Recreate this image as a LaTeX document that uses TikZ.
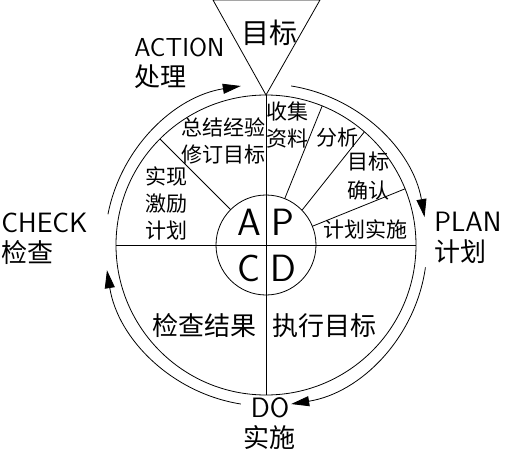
\documentclass[tikz,border=0pt]{standalone}
\usepackage{fontspec}
\setmainfont{Noto Sans CJK SC}
\usetikzlibrary{arrows.meta,positioning}

\begin{document}
\begin{tikzpicture}[
  x=1pt, y=1pt,
  line width=0.8pt,
  ring/.style={circle, draw, inner sep=0pt, outer sep=0pt},
  cyc/.style={-{Triangle[length=18pt, width=10pt]}},
  small/.style={font=\fontsize{21}{27}\selectfont, align=center, inner sep=0pt},
  mid/.style={font=\fontsize{26}{30}\selectfont, align=center, inner sep=0pt},
  outer/.style={font=\fontsize{26}{30}\selectfont, align=left, inner sep=0pt, anchor=west},
  letter/.style={font=\sffamily\fontsize{38}{38}\selectfont, inner sep=0pt}
]
\useasboundingbox (-266,-205) rectangle (240,245);
% wheel and hub
\node[ring, minimum size=300pt] (wheel) at (0,0) {};
\node[ring, minimum size=100pt] (hub) at (0,0) {};
\draw (wheel.north) -- (wheel.south);
\draw (wheel.west) -- (wheel.east);
\draw (hub.135) -- (wheel.135);
\draw (hub.68) -- (wheel.68);
\draw (hub.44) -- (wheel.49);
\draw (hub.22) -- (wheel.22);
% goal triangle
\coordinate (tl) at (-53,245);
\coordinate (tr) at (54,245);
\draw (tl) -- (tr) -- (wheel.north) -- cycle;
\node[font=\fontsize{28}{28}\selectfont, inner sep=0pt] (goal) at (4,212) {目标};
% cycle arrows
\draw[cyc] (169:161) arc[start angle=169, end angle=99, radius=161];
\draw[cyc] (81:161) arc[start angle=81, end angle=10, radius=161];
\draw[cyc] (-8:161) arc[start angle=-8, end angle=-81, radius=161];
\draw[cyc] (-99:161) arc[start angle=-99, end angle=-171, radius=161];
% hub letters
\node[letter] (la) at (-17,23) {A};
\node[letter] (lp) at (17,23) {P};
\node[letter] (lc) at (-17,-23) {C};
\node[letter] (ld) at (17,-23) {D};
% sector texts
\node[small] (sumup) at (-42,104.5) {总结经验\\修订目标};
\node[small] (reward) at (-99,42) {实现\\激励\\计划};
\node[small] (collect) at (22,120) {收集\\资料};
\node[small] (analyse) at (71,107.5) {分析};
\node[small, font=\fontsize{21}{29}\selectfont] (confirm) at (102,69) {目标\\确认};
\node[small] (carry) at (99,16) {计划实施};
\node[mid] (checkres) at (-61,-81) {检查结果};
\node[mid] (execute) at (59,-81) {执行目标};
% phase labels
\node[outer] (action) at (-132,182) {{\sffamily ACTION}\\处理};
\node[outer] (check) at (-265,6) {{\sffamily\fontsize{28}{30}\selectfont CHECK}\\检查};
\node[outer] (plan) at (168,7) {{\sffamily\fontsize{28}{30}\selectfont PLAN}\\计划};
\node[mid] (do) at (4,-179) {{\sffamily\fontsize{28}{30}\selectfont DO}\\实施};
\end{tikzpicture}
\end{document}
